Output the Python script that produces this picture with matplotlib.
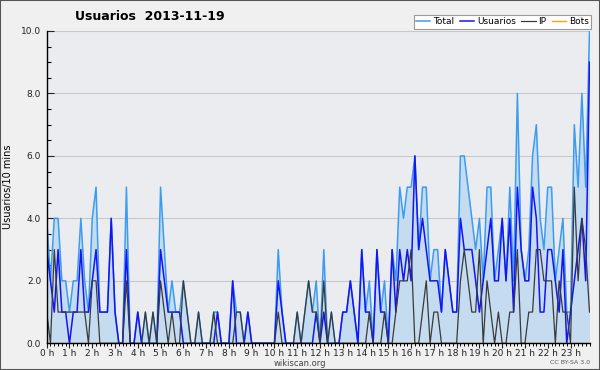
import matplotlib
matplotlib.use("Agg")
import matplotlib.pyplot as plt
import numpy as np
from matplotlib.ticker import MultipleLocator, FormatStrFormatter
from matplotlib.patches import Rectangle

# values per 10-minute slot, 2013-11-19 (144 slots)
total = [4, 2, 4, 4, 2, 2, 1, 2, 2, 4,
         2, 1, 4, 5, 1, 1, 1, 4, 1, 0,
         0, 5, 0, 0, 1, 0, 1, 0, 1, 0,
         5, 3, 1, 2, 1, 1, 2, 1, 0, 0,
         1, 0, 0, 0, 1, 1, 0, 0, 0, 2,
         1, 1, 0, 1, 0, 0, 0, 0, 0, 0,
         0, 3, 1, 0, 0, 0, 1, 0, 1, 2,
         1, 2, 0, 3, 0, 1, 0, 0, 1, 1,
         2, 1, 0, 3, 1, 2, 0, 3, 1, 2,
         0, 3, 2, 5, 4, 5, 5, 6, 3, 5,
         5, 2, 3, 3, 1, 3, 2, 1, 1, 6,
         6, 5, 4, 3, 4, 2, 5, 5, 2, 3,
         4, 2, 5, 2, 8, 3, 2, 3, 6, 7,
         4, 3, 5, 5, 2, 3, 4, 1, 1, 7,
         5, 8, 5, 10]

usuarios = [3, 2, 1, 3, 1, 1, 0, 1, 1, 3,
            1, 1, 2, 3, 1, 1, 1, 4, 1, 0,
            0, 3, 0, 0, 1, 0, 0, 0, 0, 0,
            3, 2, 1, 1, 1, 1, 0, 0, 0, 0,
            0, 0, 0, 0, 0, 1, 0, 0, 0, 2,
            0, 0, 0, 1, 0, 0, 0, 0, 0, 0,
            0, 2, 1, 0, 0, 0, 0, 0, 0, 0,
            0, 1, 0, 1, 0, 0, 0, 0, 1, 1,
            2, 1, 0, 3, 1, 1, 0, 3, 1, 1,
            0, 3, 1, 3, 2, 3, 2, 6, 3, 4,
            3, 2, 2, 2, 1, 3, 2, 1, 1, 4,
            3, 3, 3, 2, 1, 2, 3, 4, 2, 2,
            4, 2, 4, 1, 5, 3, 2, 2, 5, 4,
            1, 1, 3, 3, 2, 1, 3, 0, 1, 2,
            3, 4, 2, 9]

ip = [1, 0, 3, 1, 1, 1, 1, 1, 1, 1,
      1, 0, 2, 2, 0, 0, 0, 0, 0, 0,
      0, 2, 0, 0, 0, 0, 1, 0, 1, 0,
      2, 1, 0, 1, 0, 0, 2, 1, 0, 0,
      1, 0, 0, 0, 1, 0, 0, 0, 0, 0,
      1, 1, 0, 0, 0, 0, 0, 0, 0, 0,
      0, 1, 0, 0, 0, 0, 1, 0, 1, 2,
      1, 1, 0, 2, 0, 1, 0, 0, 0, 0,
      0, 0, 0, 0, 0, 1, 0, 0, 0, 1,
      0, 0, 1, 2, 2, 2, 3, 0, 0, 1,
      2, 0, 1, 1, 0, 0, 0, 0, 0, 2,
      3, 2, 1, 1, 3, 0, 2, 1, 0, 1,
      0, 0, 1, 1, 3, 0, 0, 1, 1, 3,
      3, 2, 2, 2, 0, 2, 1, 1, 0, 5,
      2, 4, 3, 1]

# no bot edits visible on that day
bots = [0] * 144

hour_labels = [f"{h} h" for h in range(24)]

# x in hours, one point every 10 minutes
x = np.arange(len(total)) / 6.0

fig = plt.figure(figsize=(6, 3.7), dpi=100, facecolor='#f0f0f0')
ax = fig.add_axes([46.7 / 600, 1 - 343.3 / 370, (589.5 - 46.7) / 600, (343.3 - 31) / 370])
ax.set_facecolor('#eaecef')

ax.fill_between(x, 0, total, color='#c4dbf0', lw=0, zorder=1)
ax.plot(x, bots, color='#ffa500', lw=1.0, zorder=2, label='Bots')
ax.plot(x, total, color='#3d9cf0', lw=1.1, zorder=3, label='Total')
ax.plot(x, usuarios, color='#1414f5', lw=1.1, zorder=4, label='Usuarios')
ax.plot(x, ip, color='#3a3a3a', lw=0.9, zorder=5, label='IP')

ax.set_xlim(0, x[-1])
ax.set_ylim(0, 10)

# grid
ax.yaxis.set_major_locator(MultipleLocator(2))
ax.yaxis.set_minor_locator(MultipleLocator(0.5))
ax.yaxis.set_major_formatter(FormatStrFormatter('%.1f'))
ax.grid(True, axis='y', which='major', color='#c8c8c8', lw=0.8)
ax.set_axisbelow(True)

ax.set_xticks(range(24))
ax.set_xticklabels(hour_labels)
ax.xaxis.set_minor_locator(MultipleLocator(1 / 6))

ax.tick_params(axis='y', which='major', direction='in', length=5, width=0.8,
               labelsize=6.5, pad=4, colors='#222222')
ax.tick_params(axis='y', which='minor', direction='in', length=3, width=0.8)
ax.tick_params(axis='x', which='major', direction='out', length=3.5, width=0.8,
               labelsize=6.5, pad=0.5, colors='#222222')
ax.tick_params(axis='x', which='minor', direction='out', length=2.5, width=0.7)

for s in ['top', 'right']:
    ax.spines[s].set_visible(False)
ax.spines['left'].set_linewidth(1.0)
ax.spines['bottom'].set_linewidth(1.0)
ax.spines['left'].set_zorder(10)
ax.spines['bottom'].set_zorder(10)

ax.set_ylabel("Usuarios/10 mins", fontsize=7, labelpad=6)

# title, left-ish as in the original
fig.text(75 / 600, 1 - 17 / 370, "Usuarios  2013-11-19", fontsize=9,
         weight='bold', ha='left', va='center')

# legend, top right
handles, labels = ax.get_legend_handles_labels()
order = ['Total', 'Usuarios', 'IP', 'Bots']
hmap = dict(zip(labels, handles))
leg = fig.legend([hmap[k] for k in order], order, loc='upper right',
                 bbox_to_anchor=(591 / 600, 1 - 15 / 370), ncol=4, fontsize=6.5,
                 frameon=True, fancybox=False, edgecolor='#999999', framealpha=1,
                 borderpad=0.25, columnspacing=0.6, handletextpad=0.3,
                 handlelength=1.6, borderaxespad=0)
leg.get_frame().set_linewidth(0.8)

fig.text(300 / 600, 1 - 363 / 370, "wikiscan.org", fontsize=6, color='#444444',
         ha='center', va='center')
fig.text(590 / 600, 1 - 363 / 370, "CC BY-SA 3.0", fontsize=4.5, color='#555555',
         ha='right', va='center')

# outer frame
fig.patches.append(Rectangle((0, 0), 1, 1, transform=fig.transFigure, fill=False,
                             edgecolor='#555555', lw=1.5))

fig.savefig("out.png", dpi=100, facecolor='#f0f0f0')
